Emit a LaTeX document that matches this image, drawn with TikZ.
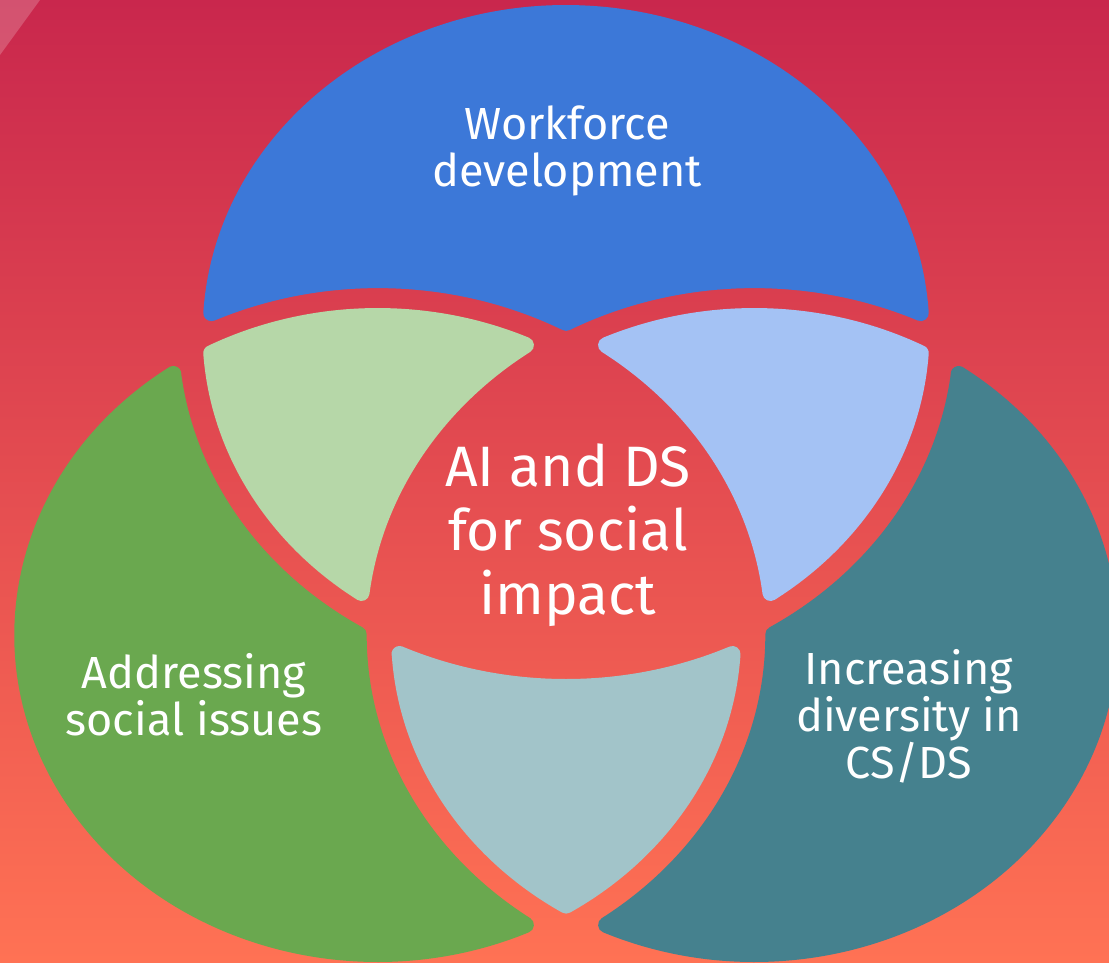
\documentclass[tikz,border=0pt]{standalone}
\usepackage{fontspec}
\setmainfont{Fira Sans}
\usepackage{tikz}
\definecolor{bgtop}{RGB}{201,39,77}
\definecolor{bgbot}{RGB}{255,114,84}
\definecolor{wfblue}{HTML}{3C78D8}
\definecolor{socgreen}{HTML}{6AA84F}
\definecolor{divteal}{HTML}{45818E}
\definecolor{lgreen}{HTML}{B6D7A8}
\definecolor{lblue}{HTML}{A4C2F4}
\definecolor{lteal}{HTML}{A2C4C9}
\tikzset{
  piece/.style={line width=16pt, line join=round},
  venntext/.style={text=white, align=center, font=\fontsize{45}{47}\selectfont},
}

\begin{document}
\begin{tikzpicture}[x=1pt, y=-1pt]
		\useasboundingbox (0,0) rectangle (1109,962);
		\shade[top color=bgtop, bottom color=bgbot] (0,0) rectangle (1109,962);
		\fill[white, opacity=0.2] (0,0) -- (40,0) -- (0,55) -- cycle;
		\begin{scope}[shift={(566,0)}, xscale=1.114]
			% outer pieces
			\filldraw[piece, wfblue] (-318.4,313.1) arc[start angle=183.4, end angle=356.6, radius=319]
				arc[start angle=294.9, end angle=241.6, radius=355]
				arc[start angle=298.4, end angle=245.1, radius=355] -- cycle;
			\filldraw[piece, socgreen] (-352.5,374.0) arc[start angle=234.9, end angle=65.34, radius=319]
				arc[start angle=125.25, end angle=180.1, radius=355]
				arc[start angle=121.59, end angle=173.2, radius=355] -- cycle;
			\filldraw[piece, divteal] (352.5,374.0) arc[start angle=305.1, end angle=474.66, radius=319]
				arc[start angle=54.75, end angle=-0.1, radius=355]
				arc[start angle=58.41, end angle=6.8, radius=355] -- cycle;
			% overlaps
			\filldraw[piece, lgreen] (-318.3,353.1) arc[start angle=242.1, end angle=294.66, radius=319]
				arc[start angle=234.75, end angle=186.8, radius=355]
				arc[start angle=125.1, end angle=176.2, radius=319] -- cycle;
			\filldraw[piece, lblue] (318.3,353.1) arc[start angle=297.9, end angle=245.34, radius=319]
				arc[start angle=305.25, end angle=353.2, radius=355]
				arc[start angle=54.9, end angle=3.8, radius=319] -- cycle;
			\filldraw[piece, lteal] (-149.45,654.0) arc[start angle=114.9, end angle=65.1, radius=355]
				arc[start angle=3.4, end angle=58.0, radius=319]
				arc[start angle=122.0, end angle=176.6, radius=319] -- cycle;
		\end{scope}
		\node[venntext] (work) at (567,151) {Workforce\\development};
		\node[venntext, font=\fontsize{57}{64}\selectfont] (core) at (568,535) {AI and DS\\for social\\impact};
		\node[venntext] (social) at (194,695) {Addressing\\social issues};
		\node[venntext] (diverse) at (909,716) {Increasing\\diversity in\\CS/DS};
	\end{tikzpicture}
\end{document}
